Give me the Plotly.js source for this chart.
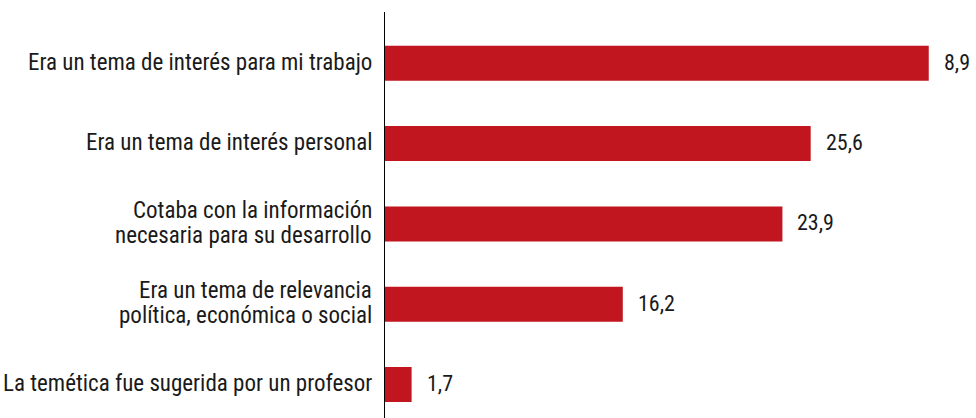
<!DOCTYPE html>
<html>
<head>
<meta charset="utf-8">
<script src="https://cdn.plot.ly/plotly-3.0.1.min.js"></script>
<style>html,body{margin:0;padding:0;background:#fff;}#chart{width:976px;height:418px;}</style>
</head>
<body>
<div id="chart"></div>
<script>
const categories = [
  "Era un tema de interés para mi trabajo",
  "Era un tema de interés personal",
  "Cotaba con la información<br>necesaria para su desarrollo",
  "Era un tema de relevancia<br>política, económica o social",
  "La temética fue sugerida por un profesor"
];
// bar lengths as drawn in the picture
const values = [32.7, 25.6, 23.9, 14.3, 1.6];
// value labels as printed in the picture
const valueLabels = ["8,9", "25,6", "23,9", "16,2", "1,7"];

const FONT = "'Roboto Condensed', 'Liberation Sans Narrow', sans-serif";
const LINE = 25;

const trace = {
  type: "bar",
  orientation: "h",
  x: values,
  y: categories,
  marker: {color: "#C1161F"},
  hoverinfo: "none"
};

const annotations = [];
values.forEach((v, i) => {
  annotations.push({
    x: v, y: categories[i], xref: "x", yref: "y",
    text: valueLabels[i], showarrow: false,
    xanchor: "left", yanchor: "middle", xshift: 13, yshift: 1,
    font: {family: FONT, size: 22, color: "#1a1a1a"}
  });
});
categories.forEach((c, i) => {
  const lines = c.split("<br>");
  lines.forEach((ln, j) => {
    annotations.push({
      x: 0, y: c, xref: "x", yref: "y",
      text: ln, showarrow: false,
      xanchor: "right", yanchor: "middle", xshift: -11,
      yshift: ((lines.length - 1) / 2 - j) * LINE + 1,
      font: {family: FONT, size: 23, color: "#1a1a1a"}
    });
  });
});

const layout = {
  width: 976, height: 418,
  margin: {l: 385, r: 9, t: 12, b: 0, pad: 0},
  paper_bgcolor: "#fff", plot_bgcolor: "#fff",
  showlegend: false,
  bargap: 0.564,
  font: {family: FONT, size: 22, color: "#1a1a1a"},
  xaxis: {range: [0, 35], showgrid: false, zeroline: false, showticklabels: false, showline: false, ticks: ""},
  yaxis: {
    type: "category",
    range: [4.417, -0.639],
    showgrid: false, zeroline: false,
    showline: true, linecolor: "#000", linewidth: 1,
    ticks: "", showticklabels: false
  },
  annotations: annotations
};

Plotly.newPlot("chart", [trace], layout, {staticPlot: true, displayModeBar: false});
</script>
</body>
</html>
